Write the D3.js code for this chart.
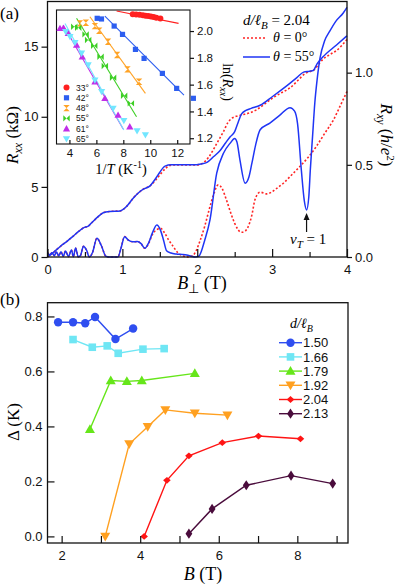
<!DOCTYPE html>
<html>
<head>
<meta charset="utf-8">
<script src="https://cdn.jsdelivr.net/npm/d3@7"></script>
<style>
body { margin: 0; background: #fff; }
svg { display: block; }
.tk text { font-family: "Liberation Sans", Arial, sans-serif; }
.serif { font-family: "Liberation Serif", "Times New Roman", serif; }
</style>
</head>
<body>
<svg id="fig" width="398" height="584"></svg>
<script>
// ---------- panel (a): transport traces, [B (T), value] ----------
var rxx55 = [[0,0.3],[0.03,0.15],[0.06,0.3],[0.09,0.1],[0.12,0.35],[0.15,0.08],[0.18,0.38],[0.21,0.05],[0.24,0.42],[0.28,0.03],[0.32,0.5],[0.345,0.02],[0.375,0.64],[0.41,0.02],[0.44,0.1],[0.48,0.76],[0.52,0.5],[0.56,0.0],[0.6,0.3],[0.66,1.33],[0.72,0.8],[0.78,0.05],[0.82,0.0],[0.94,0.0],[0.98,0.6],[1.03,1.45],[1.08,1.2],[1.14,1.08],[1.2,1.1],[1.25,0.95],[1.3,0.62],[1.35,1.0],[1.4,1.7],[1.46,2.29],[1.51,1.9],[1.55,1.2],[1.59,0.45],[1.65,0.28],[1.72,0.21],[1.8,0.18],[1.86,0.14],[1.92,0.06],[1.97,0.0],[2.02,0.05],[2.1,1.2],[2.17,2.64],[2.26,5.98],[2.35,7.4],[2.44,8.12],[2.5,8.45],[2.53,8.2],[2.57,6.93],[2.64,5.26],[2.69,5.7],[2.73,6.69],[2.78,8.0],[2.84,9.07],[2.97,9.55],[3.1,10.1],[3.24,10.65],[3.3,10.4],[3.34,9.5],[3.39,6.21],[3.43,4.0],[3.46,3.36],[3.49,4.3],[3.51,6.21],[3.54,8.6],[3.57,10.98],[3.6,12.6],[3.64,14.2],[3.7,15.4],[3.77,16.1],[3.85,16.8],[3.95,17.4],[4.0,17.8]];

var rxx0 = [[0,0.3],[0.03,0.15],[0.06,0.3],[0.09,0.1],[0.12,0.35],[0.15,0.08],[0.18,0.38],[0.21,0.05],[0.24,0.42],[0.28,0.03],[0.32,0.5],[0.345,0.02],[0.375,0.64],[0.41,0.02],[0.44,0.1],[0.48,0.76],[0.52,0.5],[0.56,0.0],[0.6,0.3],[0.66,1.33],[0.72,0.8],[0.78,0.05],[0.82,0.0],[0.94,0.0],[0.98,0.6],[1.03,1.45],[1.08,1.2],[1.14,1.08],[1.2,1.1],[1.25,0.95],[1.3,0.62],[1.35,0.95],[1.4,1.6],[1.46,1.95],[1.51,2.05],[1.56,1.75],[1.62,1.2],[1.68,0.74],[1.74,0.3],[1.8,0.1],[1.88,0.0],[1.94,0.1],[1.99,0.5],[2.04,1.2],[2.1,2.2],[2.16,3.4],[2.21,4.31],[2.28,5.14],[2.33,4.9],[2.39,4.07],[2.45,3.1],[2.5,2.4],[2.59,1.76],[2.64,1.85],[2.68,2.16],[2.73,3.0],[2.77,4.07],[2.84,4.62],[2.93,4.5],[3.05,4.85],[3.15,5.26],[3.26,5.85],[3.37,6.45],[3.48,7.1],[3.59,7.88],[3.7,8.8],[3.82,9.79],[3.92,10.9],[4.0,11.8]];

var rxy55 = [[0,0.0],[0.08,0.025],[0.17,0.057],[0.26,0.085],[0.34,0.112],[0.42,0.14],[0.48,0.158],[0.545,0.168],[0.61,0.194],[0.68,0.22],[0.745,0.24],[0.83,0.247],[0.97,0.25],[1.06,0.276],[1.15,0.322],[1.22,0.35],[1.28,0.368],[1.37,0.386],[1.44,0.423],[1.5,0.46],[1.57,0.493],[1.65,0.5],[1.8,0.5],[1.95,0.5],[2.05,0.505],[2.13,0.513],[2.22,0.545],[2.3,0.575],[2.38,0.62],[2.44,0.652],[2.5,0.68],[2.55,0.735],[2.59,0.775],[2.65,0.795],[2.72,0.806],[2.84,0.823],[3.01,0.872],[3.19,0.927],[3.33,0.973],[3.42,1.003],[3.5,1.008],[3.55,1.012],[3.6,1.048],[3.68,1.086],[3.86,1.15],[4.0,1.2]];

var rxy0 = [[0,0.0],[0.08,0.025],[0.17,0.057],[0.26,0.085],[0.34,0.112],[0.42,0.14],[0.48,0.158],[0.545,0.168],[0.61,0.194],[0.68,0.22],[0.745,0.24],[0.83,0.247],[0.97,0.25],[1.06,0.276],[1.15,0.322],[1.22,0.35],[1.28,0.368],[1.37,0.386],[1.44,0.415],[1.5,0.445],[1.57,0.478],[1.63,0.496],[1.7,0.5],[1.85,0.5],[2.0,0.5],[2.08,0.511],[2.15,0.54],[2.21,0.579],[2.28,0.63],[2.35,0.68],[2.41,0.73],[2.46,0.752],[2.52,0.763],[2.61,0.772],[2.7,0.782],[2.79,0.798],[2.9,0.83],[3.01,0.863],[3.12,0.89],[3.24,0.918],[3.35,0.96],[3.44,0.995],[3.5,1.005],[3.56,1.015],[3.62,1.045],[3.68,1.073],[3.78,1.1],[3.86,1.12],[4.0,1.18]];

// ---------- inset: ln(Rxx) vs 1/T ----------
var angles = ["33°", "42°", "48°", "55°", "61°", "65°"];
var invT33 = [8.7, 8.95, 9.2, 9.45, 9.65, 9.85, 10.05, 10.25, 10.45, 10.75];
var ln33   = [2.126, 2.124, 2.121, 2.118, 2.115, 2.112, 2.108, 2.105, 2.1, 2.094];
var invT42 = [6.06, 6.38, 7.32, 7.94, 8.9, 9.54, 10.9, 11.96, 13.2];
var ln42   = [2.095, 2.09, 2.037, 1.975, 1.863, 1.796, 1.684, 1.572, 1.498];
var invT48 = [4.78, 5.22, 5.89, 6.21, 6.87, 7.54, 8.31, 9.17];
var ln48   = [2.057, 2.062, 2.037, 2.002, 1.92, 1.821, 1.714, 1.622];
var invT55 = [4.36, 4.65, 5.2, 5.39, 5.84, 6.31, 6.63, 7.24, 8.06, 8.56];
var ln55   = [2.032, 2.025, 1.975, 1.933, 1.89, 1.808, 1.739, 1.651, 1.517, 1.46];
var invT61 = [3.3, 3.54, 3.91, 4.53, 4.95, 5.89, 6.63, 7.61, 8.48];
var ln61   = [2.02, 2.02, 1.983, 1.896, 1.808, 1.622, 1.498, 1.373, 1.286];
var invT65 = [3.72, 4.04, 4.41, 4.9, 5.39, 5.89, 6.39, 7.24, 8.04, 9.02, 9.64];
var ln65   = [1.995, 1.958, 1.913, 1.834, 1.746, 1.634, 1.547, 1.423, 1.331, 1.254, 1.224];
// activation fits, [1/T, ln] end points
var fit33 = [[7.5, 2.149], [12.1, 2.057]];
var fit42 = [[6.63, 2.112], [12.5, 1.522]];
var fit48 = [[5.52, 2.107], [9.64, 1.535]];
var fit55 = [[4.53, 2.095], [8.98, 1.36]];
var fit61 = [[3.54, 2.045], [7.99, 1.269]];
var fit65 = [[3.67, 2.057], [8.04, 1.261]];

// ---------- panel (b): gap vs B ----------
var dLabels = ["1.50", "1.66", "1.79", "1.92", "2.04", "2.13"];
var b150 = [1.91, 2.29, 2.6, 2.85, 3.37, 3.82];
var g150 = [0.779, 0.779, 0.775, 0.798, 0.718, 0.756];
var b166 = [2.29, 2.78, 3.16, 3.44, 4.07, 4.61];
var g166 = [0.716, 0.688, 0.693, 0.666, 0.681, 0.683];
var b179 = [2.72, 3.25, 3.66, 4.04, 5.39];
var g179 = [0.39, 0.567, 0.564, 0.567, 0.593];
var b192 = [3.11, 3.72, 4.19, 4.64, 5.39, 6.22];
var g192 = [0.0, 0.336, 0.399, 0.46, 0.448, 0.441];
var b204 = [4.1, 4.68, 5.24, 6.09, 7.01, 8.08];
var g204 = [0.0, 0.204, 0.293, 0.341, 0.365, 0.355];
var b213 = [5.24, 5.83, 6.7, 7.84, 8.9];
var g213 = [0.01, 0.1, 0.186, 0.221, 0.192];

var svg = d3.select("#fig");
var black = "#111";

function shape(kind, s) {
    if (kind == "circle") return d3.symbol(d3.symbolCircle, Math.PI * s * s)();
    if (kind == "square") return "M" + (-s) + "," + (-s) + "H" + s + "V" + s + "H" + (-s) + "Z";
    if (kind == "up") return "M0," + (-s) + "L" + s + "," + (s * 0.75) + "L" + (-s) + "," + (s * 0.75) + "Z";
    if (kind == "down") return "M0," + s + "L" + s + "," + (-s * 0.75) + "L" + (-s) + "," + (-s * 0.75) + "Z";
    if (kind == "diamond") return "M0," + (-s * 0.9) + "L" + s + ",0L0," + (s * 0.9) + "L" + (-s) + ",0Z";
    if (kind == "tall") return "M0," + (-s * 1.5) + "L" + s + ",0L0," + (s * 1.5) + "L" + (-s) + ",0Z";
    if (kind == "hour") return "M" + (-s) + "," + (-s) + "L" + s + "," + (-s) + "L" + (-s) + "," + s + "L" + s + "," + s + "Z";
    if (kind == "bow") return "M" + (-s) + "," + (-s) + "L" + s + "," + s + "L" + s + "," + (-s) + "L" + (-s) + "," + s + "Z";
}

function styleAxis(g, size) {
    g.select(".domain").remove();
    g.attr("class", "tk");
    g.selectAll("line").attr("stroke", black).attr("stroke-width", 1.2);
    g.selectAll("text").attr("font-size", size).attr("fill", black);
}

// ================= panel (a) =================
var xa = d3.scaleLinear().domain([0, 4]).range([47.5, 347]);
var yL = d3.scaleLinear().domain([0, 18.22]).range([257, 1.5]);
var yR = d3.scaleLinear().domain([0, 1.386]).range([257, 1.5]);

var ga = svg.append("g");

var lineL = d3.line().x(function(d) { return xa(d[0]); }).y(function(d) { return yL(d[1]); }).curve(d3.curveMonotoneX);
var lineR = d3.line().x(function(d) { return xa(d[0]); }).y(function(d) { return yR(d[1]); }).curve(d3.curveMonotoneX);

var red = "#ff2424", blue = "#1f35f5";
ga.append("path").attr("d", lineR(rxy0)).attr("fill", "none").attr("stroke", red).attr("stroke-width", 1.6).attr("stroke-dasharray", "2,2");
ga.append("path").attr("d", lineL(rxx0)).attr("fill", "none").attr("stroke", red).attr("stroke-width", 1.6).attr("stroke-dasharray", "2,2");
ga.append("path").attr("d", lineR(rxy55)).attr("fill", "none").attr("stroke", blue).attr("stroke-width", 1.5);
ga.append("path").attr("d", lineL(rxx55)).attr("fill", "none").attr("stroke", blue).attr("stroke-width", 1.5);

ga.append("rect").attr("x", 47.5).attr("y", 1.5).attr("width", 299.5).attr("height", 255.5)
    .attr("fill", "none").attr("stroke", black).attr("stroke-width", 1.3);

ga.append("g").attr("transform", "translate(0,257)")
    .call(d3.axisBottom(xa).tickValues([0, 1, 2, 3, 4]).tickSize(-8).tickPadding(8).tickFormat(d3.format("d")))
    .call(styleAxis, 13);
ga.append("g").attr("transform", "translate(0,257)")
    .call(d3.axisBottom(xa).tickValues([0.5, 1.5, 2.5, 3.5]).tickSize(-5).tickFormat(""))
    .call(styleAxis, 13);
ga.append("g").attr("transform", "translate(47.5,0)")
    .call(d3.axisLeft(yL).tickValues([0, 5, 10, 15]).tickSize(6).tickPadding(3))
    .call(styleAxis, 13);
ga.append("g").attr("transform", "translate(347,0)")
    .call(d3.axisRight(yR).tickValues([0, 0.5, 1.0]).tickSize(5).tickPadding(3).tickFormat(d3.format(".1f")))
    .call(styleAxis, 13);

// axis titles (a)
var t = ga.append("text").attr("class", "serif").attr("font-size", 17).attr("text-anchor", "middle")
    .attr("transform", "translate(18,135) rotate(-90)");
t.append("tspan").attr("font-style", "italic").text("R");
t.append("tspan").attr("font-style", "italic").attr("font-size", 12).attr("dy", 4).text("xx");
t.append("tspan").attr("dy", -4).text(" (kΩ)");

t = ga.append("text").attr("class", "serif").attr("font-size", 17).attr("text-anchor", "middle")
    .attr("transform", "translate(381,135) rotate(90)");
t.append("tspan").attr("font-style", "italic").text("R");
t.append("tspan").attr("font-style", "italic").attr("font-size", 12).attr("dy", 4).text("xy");
t.append("tspan").attr("dy", -4).text(" (");
t.append("tspan").attr("font-style", "italic").text("h");
t.append("tspan").text("/");
t.append("tspan").attr("font-style", "italic").text("e");
t.append("tspan").attr("font-size", 11).attr("dy", -6).text("2");
t.append("tspan").attr("dy", 6).text(")");

t = ga.append("text").attr("class", "serif").attr("font-size", 18).attr("text-anchor", "middle")
    .attr("x", 202).attr("y", 289);
t.append("tspan").attr("font-style", "italic").text("B");
t.append("tspan").attr("font-size", 13).attr("dy", 4).text("⊥");
t.append("tspan").attr("dy", -4).text(" (T)");

ga.append("text").attr("class", "serif").attr("font-size", 17).attr("x", 0).attr("y", 19).text("(a)");

// legend (a)
t = ga.append("text").attr("class", "serif").attr("font-size", 15).attr("x", 243).attr("y", 25);
t.append("tspan").attr("font-style", "italic").text("d/ℓ");
t.append("tspan").attr("font-style", "italic").attr("font-size", 11).attr("dy", 4).text("B");
t.append("tspan").attr("dy", -4).text(" = 2.04");
ga.append("line").attr("x1", 243).attr("x2", 267).attr("y1", 38).attr("y2", 38)
    .attr("stroke", red).attr("stroke-width", 1.6).attr("stroke-dasharray", "2,2");
ga.append("line").attr("x1", 243).attr("x2", 270).attr("y1", 57).attr("y2", 57)
    .attr("stroke", blue).attr("stroke-width", 1.5);
t = ga.append("text").attr("class", "serif").attr("font-size", 14).attr("x", 273).attr("y", 42);
t.append("tspan").attr("font-style", "italic").text("θ");
t.append("tspan").text(" = 0°");
t = ga.append("text").attr("class", "serif").attr("font-size", 14).attr("x", 273).attr("y", 61);
t.append("tspan").attr("font-style", "italic").text("θ");
t.append("tspan").text(" = 55°");

// nu_T = 1 arrow
var xArrow = xa(3.46);
ga.append("line").attr("x1", xArrow).attr("x2", xArrow).attr("y1", 232).attr("y2", 218)
    .attr("stroke", black).attr("stroke-width", 1.2);
ga.append("path").attr("d", "M" + xArrow + ",213l-3,7h6z").attr("fill", black);
t = ga.append("text").attr("class", "serif").attr("font-size", 15).attr("x", 290).attr("y", 244);
t.append("tspan").attr("font-style", "italic").text("ν");
t.append("tspan").attr("font-style", "italic").attr("font-size", 11).attr("dy", 4).text("T");
t.append("tspan").attr("dy", -4).text(" = 1");

// ================= inset =================
var xi = d3.scaleLinear().domain([3.04, 12.95]).range([56.5, 190]);
var yi = d3.scaleLinear().domain([1.157, 2.157]).range([144, 10]);
var gi = svg.append("g");
gi.append("rect").attr("x", 56.5).attr("y", 10).attr("width", 133.5).attr("height", 134)
    .attr("fill", "#fff").attr("stroke", black).attr("stroke-width", 1.1);

var insetSets = [
    {name: angles[0], x: invT33, y: ln33, fit: fit33, color: "#ff2020", kind: "circle", s: 3},
    {name: angles[1], x: invT42, y: ln42, fit: fit42, color: "#2d5ef0", kind: "square", s: 2.6},
    {name: angles[2], x: invT48, y: ln48, fit: fit48, color: "#ffa326", kind: "hour", s: 3.2},
    {name: angles[3], x: invT55, y: ln55, fit: fit55, color: "#3ccf24", kind: "bow", s: 3.2},
    {name: angles[4], x: invT61, y: ln61, fit: fit61, color: "#c02ee8", kind: "up", s: 3.6},
    {name: angles[5], x: invT65, y: ln65, fit: fit65, color: "#72e6ff", kind: "down", s: 3.6}
];

insetSets.forEach(function(set) {
    gi.append("line")
        .attr("x1", xi(set.fit[0][0])).attr("y1", yi(set.fit[0][1]))
        .attr("x2", xi(set.fit[1][0])).attr("y2", yi(set.fit[1][1]))
        .attr("stroke", set.color).attr("stroke-width", 1.1);
});
insetSets.forEach(function(set) {
    gi.selectAll(null).data(set.x).enter().append("path")
        .attr("d", shape(set.kind, set.s))
        .attr("transform", function(d, i) { return "translate(" + xi(d) + "," + yi(set.y[i]) + ")"; })
        .attr("fill", set.color);
});

gi.append("g").attr("transform", "translate(0,144)")
    .call(d3.axisBottom(xi).tickValues([4, 6, 8, 10, 12]).tickSize(-4).tickPadding(5))
    .call(styleAxis, 11.5);
gi.append("g").attr("transform", "translate(190,0)")
    .call(d3.axisRight(yi).tickValues([1.2, 1.4, 1.6, 1.8, 2.0]).tickSize(4).tickPadding(3).tickFormat(d3.format(".1f")))
    .call(styleAxis, 11.5);

// inset legend
insetSets.forEach(function(set, i) {
    var yy = 87.5 + i * 10.3;
    gi.append("path").attr("d", shape(set.kind, set.s)).attr("fill", set.color)
        .attr("transform", "translate(66.5," + yy + ")");
    gi.append("text").attr("class", "tk").attr("font-family", "Liberation Sans, Arial, sans-serif")
        .attr("font-size", 8.5).attr("x", 76).attr("y", yy + 3).attr("fill", black).text(set.name);
});

t = gi.append("text").attr("class", "serif").attr("font-size", 14.5).attr("text-anchor", "middle")
    .attr("x", 121).attr("y", 174);
t.append("tspan").text("1/");
t.append("tspan").attr("font-style", "italic").text("T");
t.append("tspan").text(" (K");
t.append("tspan").attr("font-size", 10).attr("dy", -6).text("-1");
t.append("tspan").attr("dy", 6).text(")");

t = gi.append("text").attr("class", "serif").attr("font-size", 14).attr("text-anchor", "middle")
    .attr("transform", "translate(223,82) rotate(90)");
t.append("tspan").text("ln(");
t.append("tspan").attr("font-style", "italic").text("R");
t.append("tspan").attr("font-style", "italic").attr("font-size", 10).attr("dy", 3).text("xx");
t.append("tspan").attr("dy", -3).text(")");

// ================= panel (b) =================
var xb = d3.scaleLinear().domain([1.64, 9.29]).range([47.5, 348]);
var yb = d3.scaleLinear().domain([-0.024, 0.85]).range([543, 302.7]);
var gb = svg.append("g");

var gapSets = [
    {name: dLabels[0], x: b150, y: g150, color: "#2f4ef0", kind: "circle", s: 4.2},
    {name: dLabels[1], x: b166, y: g166, color: "#6fe6f4", kind: "square", s: 3.8},
    {name: dLabels[2], x: b179, y: g179, color: "#66e61a", kind: "up", s: 5},
    {name: dLabels[3], x: b192, y: g192, color: "#ffa020", kind: "down", s: 5},
    {name: dLabels[4], x: b204, y: g204, color: "#ff1414", kind: "diamond", s: 3.8},
    {name: dLabels[5], x: b213, y: g213, color: "#4a0c3c", kind: "tall", s: 3.4}
];

var lineB = d3.line().x(function(d) { return xb(d[0]); }).y(function(d) { return yb(d[1]); });

gapSets.forEach(function(set) {
    var pts = set.x.map(function(v, i) { return [v, set.y[i]]; });
    gb.append("path").attr("d", lineB(pts)).attr("fill", "none")
        .attr("stroke", set.color).attr("stroke-width", 1.4);
    gb.selectAll(null).data(pts).enter().append("path")
        .attr("d", shape(set.kind, set.s))
        .attr("transform", function(d) { return "translate(" + xb(d[0]) + "," + yb(d[1]) + ")"; })
        .attr("fill", set.color);
});

gb.append("rect").attr("x", 47.5).attr("y", 302.7).attr("width", 300.5).attr("height", 240.3)
    .attr("fill", "none").attr("stroke", black).attr("stroke-width", 1.3);

gb.append("g").attr("transform", "translate(0,543)")
    .call(d3.axisBottom(xb).tickValues([2, 3, 4, 5, 6, 7, 8, 9]).tickSize(-7).tickPadding(8)
        .tickFormat(function(d) { return d % 2 == 0 ? d : ""; }))
    .call(styleAxis, 13);
gb.append("g").attr("transform", "translate(47.5,0)")
    .call(d3.axisLeft(yb).tickValues([0, 0.2, 0.4, 0.6, 0.8]).tickSize(-7).tickPadding(5).tickFormat(d3.format(".1f")))
    .call(styleAxis, 13);

t = gb.append("text").attr("class", "serif").attr("font-size", 18).attr("text-anchor", "middle")
    .attr("x", 203).attr("y", 580);
t.append("tspan").attr("font-style", "italic").text("B");
t.append("tspan").text(" (T)");

gb.append("text").attr("class", "serif").attr("font-size", 17).attr("text-anchor", "middle")
    .attr("transform", "translate(19,422) rotate(-90)").text("Δ (K)");

gb.append("text").attr("class", "serif").attr("font-size", 17).attr("x", 0).attr("y", 305).text("(b)");

// legend (b)
t = gb.append("text").attr("class", "serif").attr("font-size", 14).attr("x", 290).attr("y", 328);
t.append("tspan").attr("font-style", "italic").text("d/ℓ");
t.append("tspan").attr("font-style", "italic").attr("font-size", 10).attr("dy", 4).text("B");

gapSets.forEach(function(set, i) {
    var yy = 342.7 + i * 14.2;
    gb.append("line").attr("x1", 279).attr("x2", 302).attr("y1", yy).attr("y2", yy)
        .attr("stroke", set.color).attr("stroke-width", 1.4);
    gb.append("path").attr("d", shape(set.kind, set.s)).attr("fill", set.color)
        .attr("transform", "translate(290.5," + yy + ")");
    gb.append("text").attr("font-family", "Liberation Sans, Arial, sans-serif").attr("font-size", 13)
        .attr("x", 303).attr("y", yy + 4.6).attr("fill", black).text(set.name);
});
</script>
</body>
</html>
